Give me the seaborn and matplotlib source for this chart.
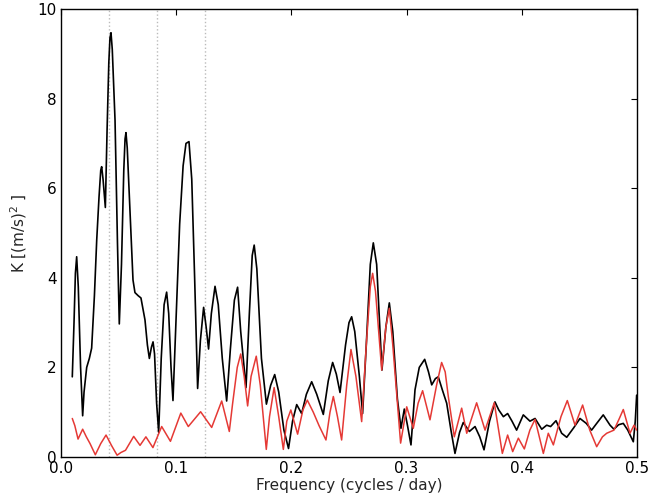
import numpy as np
import pandas as pd
import matplotlib
matplotlib.use("Agg")
import matplotlib.pyplot as plt
import seaborn as sns

# Frequency (cycles/day) and amplitude K for the full signal
freq_total = [0.0098, 0.0113, 0.0125, 0.0136, 0.0150, 0.0170, 0.0188, 0.0200, 0.0223, 0.0246,
              0.0266, 0.0290, 0.0310, 0.0330, 0.0345, 0.0353, 0.0365, 0.0385, 0.0400, 0.0415,
              0.0425, 0.0434, 0.0445, 0.0469, 0.0490, 0.0506, 0.0525, 0.0545, 0.0556, 0.0564,
              0.0575, 0.0590, 0.0608, 0.0625, 0.0642, 0.0670, 0.0694, 0.0729, 0.0750, 0.0767,
              0.0785, 0.0799, 0.0812, 0.0830, 0.0848, 0.0870, 0.0895, 0.0917, 0.0935, 0.0955,
              0.0972, 0.0995, 0.1030, 0.1060, 0.1085, 0.1111, 0.1135, 0.1160, 0.1186, 0.1210,
              0.1238, 0.1260, 0.1281, 0.1305, 0.1337, 0.1365, 0.1400, 0.1438, 0.1470, 0.1505,
              0.1533, 0.1560, 0.1606, 0.1635, 0.1660, 0.1677, 0.1700, 0.1740, 0.1783, 0.1820,
              0.1855, 0.1890, 0.1935, 0.1975, 0.2010, 0.2046, 0.2089, 0.2130, 0.2176, 0.2220,
              0.2277, 0.2320, 0.2358, 0.2390, 0.2422, 0.2470, 0.2500, 0.2523, 0.2550, 0.2590,
              0.2618, 0.2650, 0.2685, 0.2711, 0.2740, 0.2786, 0.2820, 0.2850, 0.2880, 0.2920,
              0.2951, 0.2980, 0.3008, 0.3038, 0.3073, 0.3110, 0.3157, 0.3190, 0.3218, 0.3250,
              0.3275, 0.3310, 0.3348, 0.3385, 0.3420, 0.3460, 0.3492, 0.3545, 0.3594, 0.3635,
              0.3672, 0.3720, 0.3767, 0.3800, 0.3840, 0.3877, 0.3915, 0.3955, 0.4013, 0.4071,
              0.4115, 0.4173, 0.4216, 0.4250, 0.4297, 0.4346, 0.4390, 0.4450, 0.4505, 0.4560,
              0.4606, 0.4650, 0.4707, 0.4766, 0.4800, 0.4840, 0.4881, 0.4920, 0.4968, 0.4985,
              0.4997]
k_total = [1.79, 3.0, 4.1, 4.47, 3.8, 2.0, 0.92, 1.45, 2.0, 2.2,
           2.43, 3.6, 4.84, 5.8, 6.4, 6.48, 6.2, 5.57, 7.3, 8.8,
           9.35, 9.47, 9.1, 7.52, 4.8, 2.97, 4.3, 6.4, 7.1, 7.24,
           6.9, 6.0, 4.92, 3.95, 3.67, 3.60, 3.55, 3.06, 2.5, 2.20,
           2.45, 2.57, 2.3, 1.2, 0.55, 2.2, 3.4, 3.68, 3.2, 2.0,
           1.26, 2.8, 5.2, 6.5, 7.0, 7.04, 6.2, 4.0, 1.53, 2.6,
           3.34, 2.9, 2.41, 3.2, 3.81, 3.4, 2.2, 1.25, 2.4, 3.5,
           3.79, 2.8, 1.55, 3.2, 4.5, 4.73, 4.2, 2.2, 1.18, 1.6,
           1.84, 1.45, 0.6, 0.19, 0.8, 1.17, 0.97, 1.4, 1.68, 1.4,
           0.95, 1.7, 2.11, 1.85, 1.44, 2.5, 3.0, 3.13, 2.8, 1.8,
           0.97, 2.5, 4.3, 4.78, 4.3, 1.94, 2.9, 3.44, 2.8, 1.3,
           0.64, 1.07, 0.7, 0.27, 1.50, 2.0, 2.18, 1.9, 1.61, 1.75,
           1.79, 1.5, 1.20, 0.6, 0.08, 0.55, 0.77, 0.57, 0.68, 0.45,
           0.16, 0.8, 1.23, 1.05, 0.90, 0.97, 0.8, 0.60, 0.94, 0.80,
           0.86, 0.62, 0.71, 0.68, 0.81, 0.53, 0.44, 0.65, 0.86, 0.75,
           0.60, 0.75, 0.94, 0.71, 0.62, 0.72, 0.75, 0.6, 0.34, 0.8,
           1.38]

# Frequency and amplitude K for the residual signal
freq_resid = [0.0098, 0.0120, 0.0148, 0.0188, 0.0220, 0.0252, 0.0298, 0.0345, 0.0391, 0.0440,
              0.0487, 0.0520, 0.0560, 0.0631, 0.0686, 0.0737, 0.0798, 0.0874, 0.0950, 0.1040,
              0.1105, 0.1212, 0.1308, 0.1395, 0.1461, 0.1490, 0.1530, 0.1560, 0.1590, 0.1620,
              0.1650, 0.1695, 0.1730, 0.1782, 0.1810, 0.1850, 0.1890, 0.1930, 0.1960, 0.1995,
              0.2054, 0.2100, 0.2138, 0.2190, 0.2240, 0.2300, 0.2335, 0.2364, 0.2400, 0.2436,
              0.2480, 0.2517, 0.2560, 0.2610, 0.2650, 0.2685, 0.2705, 0.2730, 0.2784, 0.2820,
              0.2850, 0.2880, 0.2948, 0.3001, 0.3058, 0.3100, 0.3139, 0.3203, 0.3260, 0.3304,
              0.3335, 0.3362, 0.3414, 0.3478, 0.3522, 0.3608, 0.3681, 0.3761, 0.3831, 0.3877,
              0.3921, 0.3970, 0.4022, 0.4070, 0.4115, 0.4187, 0.4230, 0.4274, 0.4340, 0.4395,
              0.4462, 0.4528, 0.4590, 0.4650, 0.4700, 0.4737, 0.4800, 0.4845, 0.4881, 0.4939,
              0.4974, 0.4997]
k_resid = [0.86, 0.7, 0.40, 0.62, 0.45, 0.30, 0.05, 0.3, 0.49, 0.25,
           0.04, 0.1, 0.15, 0.46, 0.26, 0.45, 0.21, 0.68, 0.35, 0.98,
           0.68, 1.01, 0.66, 1.25, 0.57, 1.2, 2.0, 2.30, 1.8, 1.14,
           1.8, 2.25, 1.6, 0.17, 0.9, 1.55, 0.9, 0.17, 0.8, 1.05,
           0.51, 1.05, 1.27, 1.0, 0.7, 0.38, 1.0, 1.35, 0.9, 0.38,
           1.6, 2.40, 1.8, 0.79, 2.5, 3.8, 4.10, 3.7, 1.94, 2.9,
           3.32, 2.5, 0.31, 1.12, 0.64, 1.2, 1.48, 0.83, 1.6, 2.11,
           1.9, 1.35, 0.45, 1.09, 0.53, 1.21, 0.60, 1.21, 0.08, 0.49,
           0.12, 0.42, 0.18, 0.6, 0.84, 0.08, 0.53, 0.27, 0.9, 1.26,
           0.71, 1.16, 0.6, 0.23, 0.45, 0.53, 0.6, 0.85, 1.06, 0.53,
           0.71, 0.60]

# Reference frequencies (1/24, 1/12, 1/8 cycles per day)
ref_freqs = [1 / 24, 1 / 12, 1 / 8]

x_ticks = [0.0, 0.1, 0.2, 0.3, 0.4, 0.5]
y_ticks = [0, 2, 4, 6, 8, 10]

sns.set_style("white")
plt.rcParams["font.family"] = ["DejaVu Sans"]
plt.rcParams.update({
    "xtick.direction": "in", "ytick.direction": "in",
    "xtick.top": True, "ytick.right": True,
    "xtick.major.size": 4, "ytick.major.size": 4,
    "xtick.major.width": 0.8, "ytick.major.width": 0.8,
    "axes.edgecolor": "black", "axes.linewidth": 1.0,
})

df_total = pd.DataFrame({"freq": freq_total, "K": k_total})
df_resid = pd.DataFrame({"freq": freq_resid, "K": k_resid})

fig = plt.figure(figsize=(6.65, 4.96), dpi=100)
ax = fig.add_axes([61 / 665, 39 / 496, 576 / 665, 448 / 496])

for f in ref_freqs:
    ax.axvline(f, color="#bbbbbb", linestyle=":", linewidth=1.0, zorder=0)

sns.lineplot(data=df_total, x="freq", y="K", sort=False, color="black",
             linewidth=1.2, ax=ax, zorder=2)
sns.lineplot(data=df_resid, x="freq", y="K", sort=False, color="#e53935",
             linewidth=1.1, ax=ax, zorder=3)

ax.set_xlim(0, 0.5)
ax.set_ylim(0, 10)
ax.set_xticks(x_ticks)
ax.set_xticklabels([f"{t:.1f}" for t in x_ticks])
ax.set_yticks(y_ticks)
ax.set_yticklabels([str(t) for t in y_ticks])
ax.tick_params(labelsize=11, colors="black", pad=3)
ax.set_xlabel("Frequency (cycles / day)", fontsize=11, labelpad=1)
ax.set_ylabel(r"K [(m/s)$^2$ ]", fontsize=11, labelpad=6)

fig.savefig("out.png", dpi=100)
